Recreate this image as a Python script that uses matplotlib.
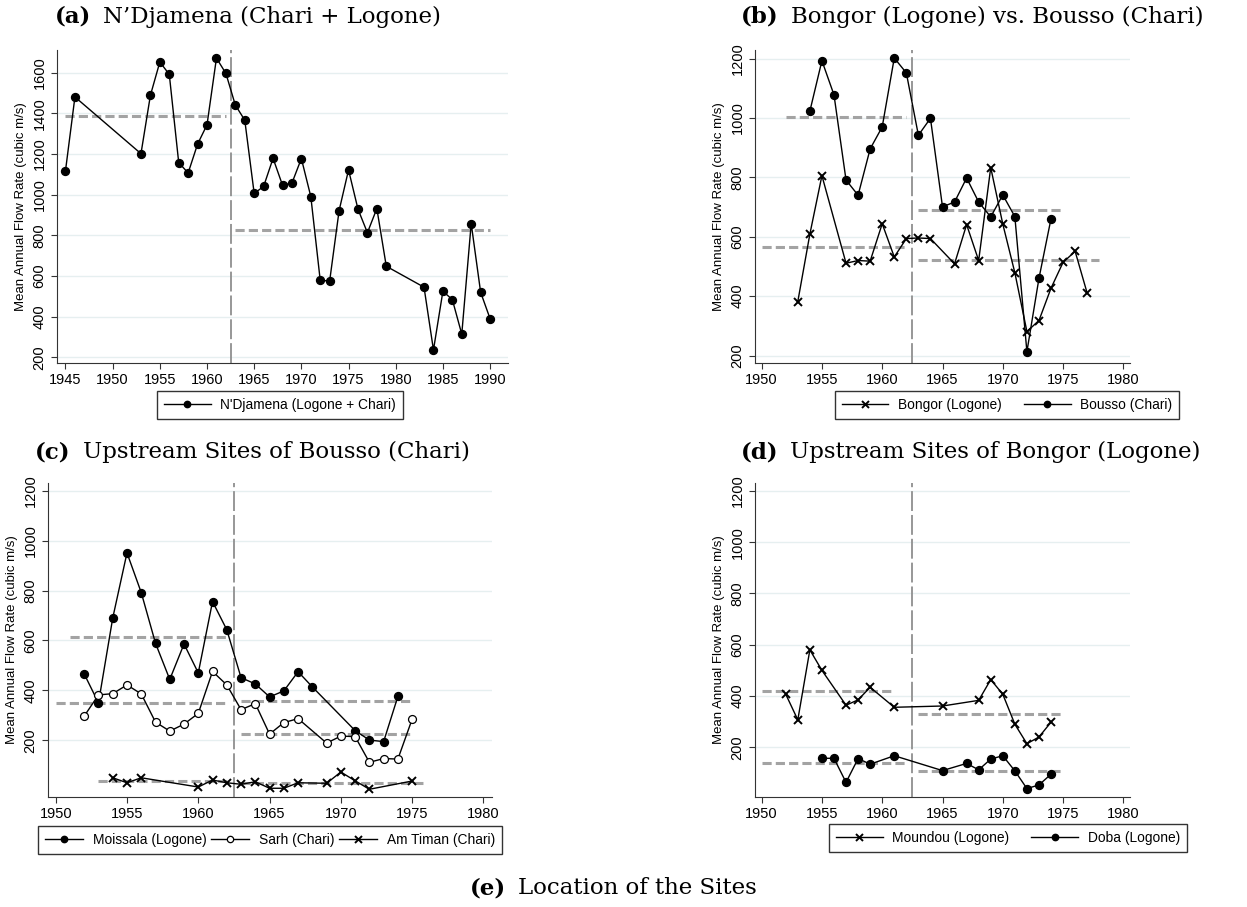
import matplotlib
matplotlib.use("Agg")
import matplotlib.pyplot as plt

plt.rcParams['font.family'] = ['Liberation Sans', 'DejaVu Sans']

W, H = 1247, 907

# (a) N'Djamena
ndj_years = [1945, 1946, 1953, 1954, 1955, 1956, 1957, 1958, 1959, 1960, 1961, 1962,
             1963, 1964, 1965, 1966, 1967, 1968, 1969, 1970, 1971, 1972, 1973, 1974,
             1975, 1976, 1977, 1978, 1979, 1983, 1984, 1985, 1986, 1987, 1988, 1989, 1990]
ndj_flow = [1118, 1481, 1202, 1489, 1653, 1592, 1158, 1107, 1249, 1344, 1672, 1597,
            1441, 1367, 1006, 1041, 1179, 1047, 1057, 1178, 991, 578, 576, 922,
            1122, 929, 813, 932, 648, 545, 236, 525, 484, 314, 858, 520, 390]

# (b) Bongor vs Bousso
bongor_years = [1953, 1954, 1955, 1957, 1958, 1959, 1960, 1961, 1962, 1963, 1964,
                1966, 1967, 1968, 1969, 1970, 1971, 1972, 1973, 1974, 1975, 1976, 1977]
bongor_flow = [382, 609, 806, 511, 520, 518, 644, 532, 594, 596, 594,
               509, 641, 520, 833, 643, 479, 281, 318, 427, 514, 551, 410]
bousso_years = [1954, 1955, 1956, 1957, 1958, 1959, 1960, 1961, 1962, 1963, 1964,
                1965, 1966, 1967, 1968, 1969, 1970, 1971, 1972, 1973, 1974]
bousso_flow = [1023, 1193, 1078, 791, 740, 896, 970, 1202, 1152, 942, 999,
               701, 717, 798, 717, 667, 741, 668, 213, 460, 661]

# (c) upstream of Bousso
moissala_years = [1952, 1953, 1954, 1955, 1956, 1957, 1958, 1959, 1960, 1961, 1962,
                  1963, 1964, 1965, 1966, 1967, 1968, 1971, 1972, 1973, 1974]
moissala_flow = [466, 350, 690, 951, 792, 589, 444, 586, 470, 756, 643,
                 451, 426, 374, 398, 475, 414, 239, 201, 195, 376]
sarh_years = [1952, 1953, 1954, 1955, 1956, 1957, 1958, 1959, 1960, 1961, 1962,
              1963, 1964, 1965, 1966, 1967, 1969, 1970, 1971, 1972, 1973, 1974, 1975]
sarh_flow = [297, 382, 387, 422, 386, 273, 237, 265, 308, 476, 422,
             323, 347, 225, 271, 287, 189, 217, 215, 112, 127, 125, 285]
amtiman_years = [1954, 1955, 1956, 1960, 1961, 1962, 1963, 1964, 1965, 1966, 1967,
                 1969, 1970, 1971, 1972, 1975]
amtiman_flow = [50, 30, 50, 13, 41, 30, 24, 34, 8, 8, 30, 28, 73, 38, 4, 37]

# (d) upstream of Bongor
moundou_years = [1952, 1953, 1954, 1955, 1957, 1958, 1959, 1961, 1965, 1968, 1969,
                 1970, 1971, 1972, 1973, 1974]
moundou_flow = [407, 307, 580, 500, 364, 385, 434, 356, 361, 383, 464,
                407, 290, 214, 240, 298]
doba_years = [1955, 1956, 1957, 1958, 1959, 1961, 1965, 1967, 1968, 1969, 1970,
              1971, 1972, 1973, 1974]
doba_flow = [157, 157, 63, 156, 134, 167, 109, 137, 112, 154, 167, 108, 39, 53, 95]

# period means: (start, end, value)
ndj_means = [(1945, 1962, 1387), (1963, 1990, 828)]
bongor_means = [(1950, 1962, 567), (1963, 1978, 523)]
bousso_means = [(1952, 1962, 1005), (1963, 1975, 690)]
moissala_means = [(1951, 1962, 613), (1963, 1975, 356)]
sarh_means = [(1950, 1962, 350), (1963, 1975, 227)]
amtiman_means = [(1953, 1962, 37), (1963, 1976, 30)]
moundou_means = [(1950, 1961, 419), (1963, 1975, 331)]
doba_means = [(1950, 1962, 139), (1963, 1975, 108)]

break_year = 1962.5
mean_col = '#a3a3a3'
grid_col = '#e6eff0'

fig = plt.figure(figsize=(W / 100, H / 100), dpi=100)


def px_axes(l, t, r, b):
    return fig.add_axes([l / W, 1 - b / H, (r - l) / W, (b - t) / H])


def style_axes(ax, xlim, ylim, xticks, yticks):
    ax.set_xlim(*xlim)
    ax.set_ylim(*ylim)
    ax.set_xticks(xticks)
    ax.set_yticks(yticks)
    ax.set_yticklabels([str(v) for v in yticks], rotation=90, va='center')
    for s in ['top', 'right']:
        ax.spines[s].set_visible(False)
    ax.spines['left'].set_color('#333333')
    ax.spines['bottom'].set_color('#333333')
    ax.tick_params(labelsize=10.5, length=4, width=0.8, color='#333333')
    ax.grid(axis='y', color=grid_col, linewidth=1)
    ax.set_axisbelow(True)
    ax.set_ylabel('Mean Annual Flow Rate (cubic m/s)', fontsize=9.5)
    ax.axvline(break_year, color='#8f8f8f', linewidth=1.3, dashes=(11, 2.2))


def draw_means(ax, means):
    for x0, x1, v in means:
        ax.plot([x0, x1], [v, v], color=mean_col, linewidth=2.2, dashes=(3, 1.35), zorder=2)


def series(ax, x, y, marker, label):
    if marker == 'o':
        kw = dict(marker='o', markersize=5.7, markerfacecolor='black', markeredgecolor='black')
    elif marker == 'open':
        kw = dict(marker='o', markersize=5.7, markerfacecolor='white', markeredgecolor='black',
                  markeredgewidth=0.9)
    else:
        kw = dict(marker='x', markersize=6.3, markeredgewidth=1.4, markeredgecolor='black')
    return ax.plot(x, y, color='black', linewidth=1, label=label, zorder=3, **kw)[0]


def legend(ax, handles, cx, top, ncol, colsp=1.6, hl=3.4):
    ax.legend(handles=handles, loc='upper center', bbox_to_anchor=(cx / W, 1 - top / H),
              bbox_transform=fig.transFigure, ncol=ncol, fontsize=9.9, frameon=True,
              fancybox=False, edgecolor='#333333', framealpha=1, handlelength=hl,
              columnspacing=colsp, borderpad=0.5, handletextpad=0.7, markerscale=0.8,
              borderaxespad=0)


def title(x, y, tag, text):
    t = fig.text(x / W, 1 - y / H, tag, fontsize=16.5, fontweight='bold',
                 family='DejaVu Serif', va='center', ha='left')
    fig.canvas.draw()
    bb = t.get_window_extent()
    fig.text((bb.x1 + 12) / W, 1 - y / H, text, fontsize=16.5, family='DejaVu Serif',
             va='center', ha='left')


# panel a
ax = px_axes(57, 50, 508, 363)
style_axes(ax, (1944.1, 1991.9), (172, 1712), range(1945, 1991, 5), list(range(200, 1601, 200)))
draw_means(ax, ndj_means)
h1 = series(ax, ndj_years, ndj_flow, 'o', "N'Djamena (Logone + Chari)")
legend(ax, [h1], 280, 391, 1)

# panel b
ax = px_axes(755, 50, 1130, 363)
style_axes(ax, (1949.45, 1980.55), (175, 1229), range(1950, 1981, 5), list(range(200, 1201, 200)))
draw_means(ax, bousso_means)
draw_means(ax, bongor_means)
h1 = series(ax, bongor_years, bongor_flow, 'x', 'Bongor (Logone)')
h2 = series(ax, bousso_years, bousso_flow, 'o', 'Bousso (Chari)')
legend(ax, [h1, h2], 1007, 391, 2)

# panel c
ax = px_axes(48, 483, 492, 797)
style_axes(ax, (1949.46, 1980.6), (-27, 1231), range(1950, 1981, 5), list(range(200, 1201, 200)))
draw_means(ax, moissala_means)
draw_means(ax, sarh_means)
draw_means(ax, amtiman_means)
h1 = series(ax, moissala_years, moissala_flow, 'o', 'Moissala (Logone)')
h2 = series(ax, sarh_years, sarh_flow, 'open', 'Sarh (Chari)')
h3 = series(ax, amtiman_years, amtiman_flow, 'x', 'Am Timan (Chari)')
legend(ax, [h1, h2, h3], 270, 826, 3, colsp=0.3, hl=2.8)

# panel d
ax = px_axes(755, 483, 1130, 797)
style_axes(ax, (1949.45, 1980.55), (6, 1231), range(1950, 1981, 5), list(range(200, 1201, 200)))
draw_means(ax, moundou_means)
draw_means(ax, doba_means)
h1 = series(ax, moundou_years, moundou_flow, 'x', 'Moundou (Logone)')
h2 = series(ax, doba_years, doba_flow, 'o', 'Doba (Logone)')
legend(ax, [h1, h2], 1008, 824, 2)

title(55, 17, '(a)', 'N\u2019Djamena (Chari + Logone)')
title(741, 17, '(b)', 'Bongor (Logone) vs. Bousso (Chari)')
title(35, 452, '(c)', 'Upstream Sites of Bousso (Chari)')
title(741, 452, '(d)', 'Upstream Sites of Bongor (Logone)')
title(470, 888, '(e)', 'Location of the Sites')

fig.savefig('out.png', dpi=100)
